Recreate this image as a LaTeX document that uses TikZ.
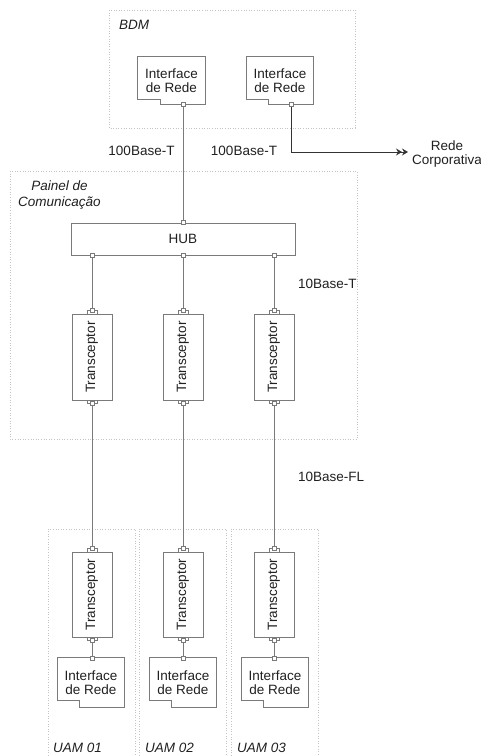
\documentclass[tikz,border=0pt]{standalone}
\usepackage{fontspec}
\setmainfont{Liberation Sans}
\usepackage{graphicx}
\usetikzlibrary{arrows.meta,positioning}

\definecolor{linegray}{HTML}{7A7A7A}
\definecolor{dotgray}{HTML}{C4C4C4}
\definecolor{txtgray}{HTML}{202020}

\tikzset{
  box/.style={draw=linegray, line width=0.8pt},
  lbl/.style={text=txtgray, font=\fontsize{13.5}{14.5}\selectfont, align=center, inner sep=0},
  ifbox/.style={lbl, minimum width=67, minimum height=47},
  trbox/.style={box, lbl, minimum width=40, minimum height=86},
  hubbox/.style={box, lbl, minimum width=224, minimum height=32},
  area/.style={draw=dotgray, dotted, line width=0.6pt},
  port/.style={draw=linegray, fill=white, minimum size=4, inner sep=0, line width=0.6pt},
  wire/.style={draw=linegray, line width=0.8pt},
}

% interface outline with the cut corner
\newcommand{\ifoutline}[3]{%
  \draw[box] (#1.north west) -- (#1.north east) -- (#1.south east)
    -- ([xshift=#2pt]#1.south west) -- ++(0,-#3) -- ([yshift=#3pt]#1.south west) -- cycle;}
% plug of a transceptor, top and bottom
\newcommand{\plugs}[1]{%
  \draw[box, line width=0.6pt] ([xshift=-5pt]#1.north) -- ++(0,-3) -- ++(10,0) -- ++(0,3);
  \draw[box, line width=0.6pt] ([xshift=-5pt]#1.south) -- ++(0,3) -- ++(10,0) -- ++(0,-3);
  \node[port] (#1t) at ([yshift=3pt]#1.north) {};
  \node[port] (#1b) at ([yshift=-3pt]#1.south) {};}

\begin{document}
\begin{tikzpicture}[x=1pt, y=-1pt]
\useasboundingbox (0,0) rectangle (481,756);

% areas
\draw[area] (109,10) rectangle (355,128);
\draw[area] (10,171) rectangle (357,439);
\draw[area] (48,758) -- (48,529) -- (135,529) -- (135,758);
\draw[area] (139,758) -- (139,529) -- (226,529) -- (226,758);
\draw[area] (231,758) -- (231,529) -- (318,529) -- (318,758);

\node[lbl, font=\fontsize{13.5}{14.5}\selectfont\itshape, anchor=west] (bdm) at (119,25) {BDM};
\node[lbl, font=\fontsize{13.5}{16}\selectfont\itshape] (painel) at (59.5,195) {Painel de\\Comunica\c{c}\~ao};
\node[lbl, font=\fontsize{13.5}{14.5}\selectfont\itshape, anchor=west] (uam1) at (53,748) {UAM 01};
\node[lbl, font=\fontsize{13.5}{14.5}\selectfont\itshape, anchor=west] (uam2) at (145,748) {UAM 02};
\node[lbl, font=\fontsize{13.5}{14.5}\selectfont\itshape, anchor=west] (uam3) at (237,748) {UAM 03};

% BDM
\node[ifbox] (bdm1) at (171.5,80.5) {Interface\\de Rede};
\node[ifbox] (bdm2) at (280,80.5) {Interface\\de Rede};
\ifoutline{bdm1}{23}{5}
\ifoutline{bdm2}{22}{5}
\node[port] (bdm1p) at ([xshift=11.5pt]bdm1.south) {};
\node[port] (bdm2p) at ([xshift=11pt]bdm2.south) {};

% painel
\node[hubbox] (hub) at (183,239) {HUB};
\node[trbox] (tr1) at (92,357) {\rotatebox{90}{Transceptor}};
\node[trbox] (tr2) at (183,357) {\rotatebox{90}{Transceptor}};
\node[trbox] (tr3) at (274,357) {\rotatebox{90}{Transceptor}};
\plugs{tr1}
\plugs{tr2}
\plugs{tr3}
\node[port] (hubt) at (hub.north -| bdm1p) {};
\node[port] (hub1) at (hub.south -| tr1) {};
\node[port] (hub2) at (hub.south -| tr2) {};
\node[port] (hub3) at (hub.south -| tr3) {};

% UAMs
\node[trbox, minimum height=85] (ut1) at (92,594.5) {\rotatebox{90}{Transceptor}};
\node[trbox, minimum height=85] (ut2) at (183,594.5) {\rotatebox{90}{Transceptor}};
\node[trbox, minimum height=85] (ut3) at (274,594.5) {\rotatebox{90}{Transceptor}};
\plugs{ut1}
\plugs{ut2}
\plugs{ut3}
\node[ifbox, minimum width=66, minimum height=49] (ui1) at (91,682.5) {Interface\\de Rede};
\node[ifbox, minimum width=66, minimum height=49] (ui2) at (183,682.5) {Interface\\de Rede};
\node[ifbox, minimum width=66, minimum height=49] (ui3) at (275,682.5) {Interface\\de Rede};
\ifoutline{ui1}{22}{7}
\ifoutline{ui2}{22}{7}
\ifoutline{ui3}{22}{7}
\node[port] (ui1p) at (ut1 |- ui1.north) {};
\node[port] (ui2p) at (ut2 |- ui2.north) {};
\node[port] (ui3p) at (ut3 |- ui3.north) {};

% wires
\coordinate (corp) at (408,152);
\draw[wire] (bdm1p) -- (hubt);
\draw[wire, draw=black!80, -{Stealth[length=6pt,width=7pt,inset=2pt] Stealth[length=6pt,width=7pt,inset=2pt]}] (bdm2p) |- (corp);
\draw[wire] (hub1) -- (tr1t);
\draw[wire] (hub2) -- (tr2t);
\draw[wire] (hub3) -- (tr3t);
\draw[wire] (tr1b) -- (ut1t);
\draw[wire] (tr2b) -- (ut2t);
\draw[wire] (tr3b) -- (ut3t);
\draw[wire] (ut1b) -- (ui1p);
\draw[wire] (ut2b) -- (ui2p);
\draw[wire] (ut3b) -- (ui3p);

% labels
\node[lbl] (rede) at (447,154) {Rede\\Corporativa};
\node[lbl] (base1) at (141.5,151) {100Base-T};
\node[lbl] (base2) at (244,151) {100Base-T};
\node[lbl, anchor=west] (base3) at (298,284) {10Base-T};
\node[lbl, anchor=west] (base4) at (298,477) {10Base-FL};
\end{tikzpicture}
\end{document}
